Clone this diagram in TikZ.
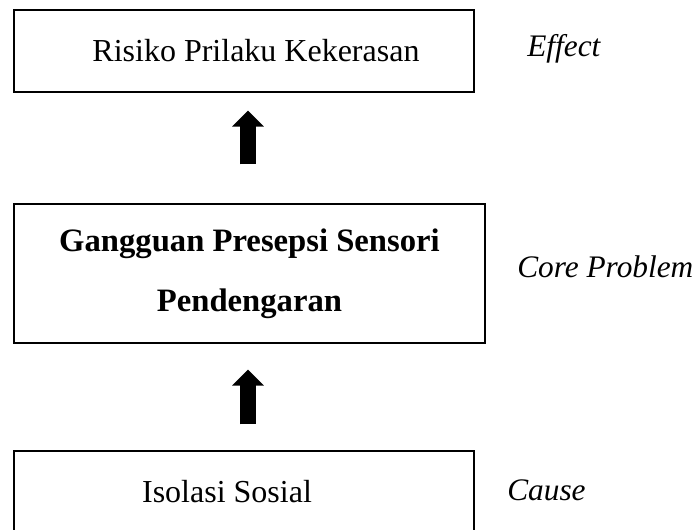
\documentclass[tikz,border=0pt]{standalone}
\usepackage{fontspec}
\setmainfont{Liberation Serif}
\usetikzlibrary{arrows.meta,calc}

% looks that repeat
\tikzset{
  box/.style={draw, line width=1pt, minimum height=61.5pt, inner sep=0pt, align=center,
    font=\fontsize{24}{45}\selectfont},
  side/.style={anchor=base west, inner sep=0pt, font=\fontsize{23.5}{27}\selectfont\itshape},
  bigarrow/.style={line width=12pt, -{Triangle[length=12pt,width=23.25pt]}}
}

\begin{document}
\begin{tikzpicture}[x=0.75pt,y=-0.75pt]
\clip (0,0) rectangle (699,530);

% the three boxes
\node[box, minimum width=345pt] (effect) at (244,51) {\hspace*{18pt}Risiko Prilaku Kekerasan};
\node[box, minimum width=353.25pt, minimum height=104.25pt,
  font=\fontsize{24.5}{45}\selectfont\bfseries] (core) at (249.5,273.5)
  {\raisebox{3pt}{Gangguan Presepsi Sensori}\\\raisebox{3pt}{Pendengaran}};
\node[box, minimum width=345pt] (cause) at (244,492) {Isolasi Sosial\hspace*{25.5pt}};

% labels on the right
\node[side] (effectlbl) at (527,57) {Effect};
\node[side] (corelbl) at (517,278) {Core Problem};
\node[side] (causelbl) at (507,500) {Cause};

% block arrows
\draw[bigarrow, shorten <=29.25pt, shorten >=13.5pt]
  ($(effect.south |- core.north)+(4,0)$) -- ($(effect.south)+(4,0)$);
\draw[bigarrow, shorten <=19.5pt, shorten >=19.5pt]
  ($(cause.north)+(4,0)$) -- ($(cause.north |- core.south)+(4,0)$);
\end{tikzpicture}
\end{document}
